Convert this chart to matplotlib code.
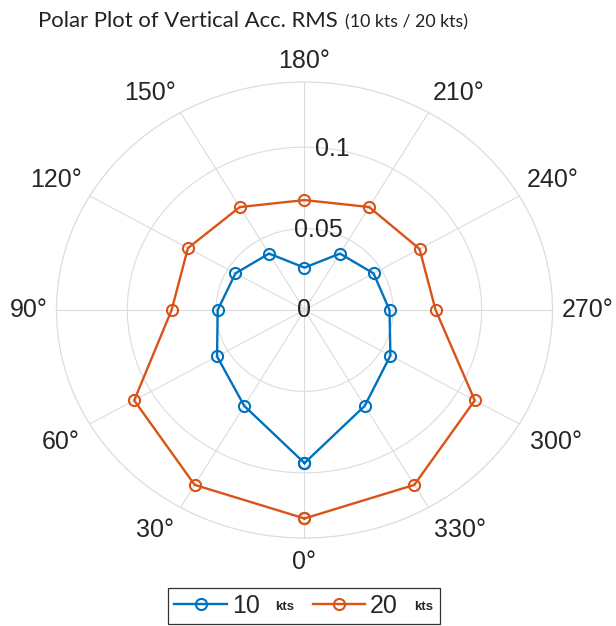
import numpy as np
import matplotlib.pyplot as plt
from matplotlib.lines import Line2D
from matplotlib.patches import Rectangle

# data
angles_deg = [0, 30, 60, 90, 120, 150, 180, 210, 240, 270, 300, 330]
rms_10kts = [0.094, 0.068, 0.057, 0.049, 0.045, 0.040, 0.026, 0.040, 0.045, 0.048, 0.056, 0.068]
rms_20kts = [0.128, 0.124, 0.111, 0.075, 0.076, 0.073, 0.0675, 0.073, 0.075, 0.074, 0.111, 0.124]
series_names = ["10", "20"]
r_ticks = [0, 0.05, 0.1]
r_tick_labels = ["0", "0.05", "0.1"]
r_max = 0.14
theta_ticks = list(range(0, 360, 30))

blue = "#0072BD"
orange = "#D95319"
txt_col = "#262626"
grid_col = "#dcdcdc"
num_font = "Liberation Sans"

fig = plt.figure(figsize=(6.16, 6.26), dpi=100)
ax = fig.add_axes([0.0917, 0.1406, 0.8052, 0.7284], projection="polar")
ax.set_aspect("auto")
ax.set_theta_zero_location("S")
ax.set_theta_direction(-1)

for vals, col in [(rms_10kts, blue), (rms_20kts, orange)]:
    th = np.deg2rad(angles_deg + [angles_deg[0]])
    rr = vals + [vals[0]]
    ax.plot(th, rr, "-o", color=col, lw=1.7, ms=8, mfc="none", mew=1.5, clip_on=False, zorder=3)

ax.set_ylim(0, r_max)
ax.set_xticks(np.deg2rad(theta_ticks))
ax.set_xticklabels([])
ax.set_yticks(r_ticks[1:])
ax.set_yticklabels([])
ax.grid(color=grid_col, linewidth=0.8)
ax.spines["polar"].set_color(grid_col)
ax.spines["polar"].set_linewidth(0.9)

# angle labels outside the circle, aligned away from it (matlab style)
pad = 9
for a in theta_ticks:
    ux = -np.sin(np.deg2rad(a))
    uy = -np.cos(np.deg2rad(a))
    ha = "center" if abs(ux) < 1e-6 else ("right" if ux < 0 else "left")
    va = "center" if abs(uy) < 1e-6 else ("bottom" if uy > 0 else "top")
    p = pad + 3 if uy < -1e-6 else pad
    ax.annotate(f"{a}°", xy=(np.deg2rad(a), r_max), xytext=(ux * p, uy * p),
                textcoords="offset pixels", ha=ha, va=va, fontsize=18,
                family=num_font, color=txt_col, annotation_clip=False)

# radial labels, slightly off the 180 spoke
for r, lab in zip(r_ticks, r_tick_labels):
    ang = np.deg2rad(189) if r > 0 else 0
    ax.text(ang, r, lab, ha="center", va="center", fontsize=18,
            family=num_font, color=txt_col, zorder=4)

fig.canvas.draw()
rend = fig.canvas.get_renderer()
inv = fig.transFigure.inverted()

# title in two sizes
t1 = fig.text(38 / 616, 1 - 27 / 626, "Polar Plot of Vertical Acc. RMS", fontsize=15.9,
              family="Lato", color="#222222", ha="left", va="baseline")
b1 = t1.get_window_extent(rend)
tx, _ = inv.transform((b1.x1 + 7, 0))
fig.text(tx, 1 - 27 / 626, "(10 kts / 20 kts)", fontsize=12.8,
         family="Lato", color="#222222", ha="left", va="baseline")

# legend, with a small bold "kts" after each label
handles = [Line2D([], [], color=c, marker="o", mfc="none", lw=1.7, ms=8, mew=1.5)
           for c in (blue, orange)]
leg = fig.legend(handles, series_names, loc="lower left", bbox_to_anchor=(168 / 616, 2 / 626),
                 ncol=2, frameon=False, handlelength=2.1, handletextpad=0.2,
                 columnspacing=2.12, borderpad=0.25, borderaxespad=0,
                 prop={"family": num_font, "size": 18})
for t in leg.get_texts():
    t.set_color(txt_col)

fig.canvas.draw()
right = 0
for t in leg.get_texts():
    bb = t.get_window_extent(rend)
    _, _, d = rend.get_text_width_height_descent("lp", t.get_fontproperties(), False)
    base = bb.y0 + d + 3
    x, y = inv.transform((bb.x1 + 16, base))
    k = fig.text(x, y, "kts", fontsize=9.5, fontweight="bold", family=num_font,
                 color=txt_col, ha="left", va="baseline")
    right = k.get_window_extent(rend).x1

lb = leg.get_window_extent(rend)
(x0, y0) = inv.transform((lb.x0, lb.y0))
(x1, y1) = inv.transform((right + 7, lb.y1))
fig.add_artist(Rectangle((x0, y0), x1 - x0, y1 - y0, transform=fig.transFigure,
                         fill=False, edgecolor="#333333", linewidth=0.9))

fig.savefig("out.png", dpi=100)
